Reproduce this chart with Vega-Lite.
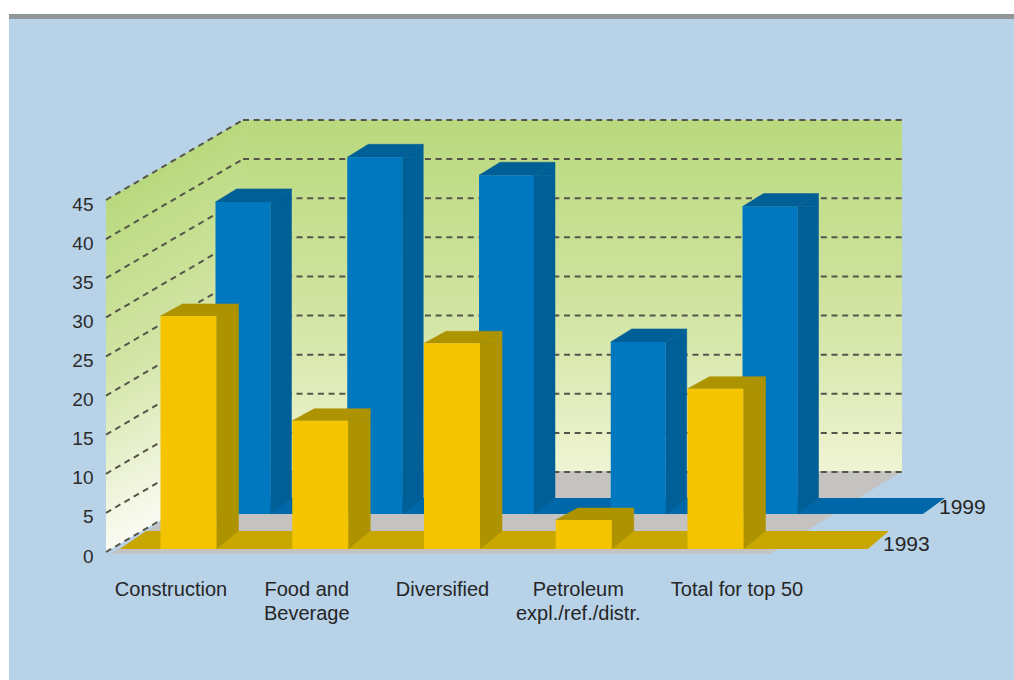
{
  "$schema": "https://vega.github.io/schema/vega-lite/v6.json",
  "autosize": "none",
  "padding": {"left": 9, "top": 19, "right": 0, "bottom": 0},
  "width": 1005,
  "height": 661,
  "background": "#ffffff",
  "view": {"fill": "#b8d2e8", "stroke": null},
  "datasets": {
    "walls": [{"from": 0, "to": 1, "floor": 0, "ceiling": 45}],
    "ticks": [
      {"tick": 0, "from": 0, "to": 1},
      {"tick": 5, "from": 0, "to": 1},
      {"tick": 10, "from": 0, "to": 1},
      {"tick": 15, "from": 0, "to": 1},
      {"tick": 20, "from": 0, "to": 1},
      {"tick": 25, "from": 0, "to": 1},
      {"tick": 30, "from": 0, "to": 1},
      {"tick": 35, "from": 0, "to": 1},
      {"tick": 40, "from": 0, "to": 1},
      {"tick": 45, "from": 0, "to": 1}
    ]
  },
  "data": {
    "values": [
      {"category": "Construction", "series": "1993", "value": 29.8},
      {"category": "Food and\nBeverage", "series": "1993", "value": 16.4},
      {"category": "Diversified", "series": "1993", "value": 26.3},
      {"category": "Petroleum\nexpl./ref./distr.", "series": "1993", "value": 3.7},
      {"category": "Total for top 50", "series": "1993", "value": 20.5},
      {"category": "Construction", "series": "1999", "value": 39.9},
      {"category": "Food and\nBeverage", "series": "1999", "value": 45.6},
      {"category": "Diversified", "series": "1999", "value": 43.3},
      {"category": "Petroleum\nexpl./ref./distr.", "series": "1999", "value": 22},
      {"category": "Total for top 50", "series": "1999", "value": 39.3}
    ]
  },
  "resolve": {"scale": {"x": "independent"}, "axis": {"y": "independent"}},
  "encoding": {
    "x": {
      "field": "category",
      "type": "nominal",
      "axis": null,
      "scale": {
        "type": "point",
        "padding": 0,
        "domain": ["Construction", "Food and\nBeverage", "Diversified", "Petroleum\nexpl./ref./distr.", "Total for top 50"],
        "range": [179.5, 706.5]
      }
    },
    "y": {
      "field": "value",
      "type": "quantitative",
      "axis": null,
      "scale": {"domain": [0, 45], "range": [533, 181], "nice": false, "zero": false}
    }
  },
  "layer": [
    {
      "description": "Band along the top of the panel",
      "data": {"name": "walls"},
      "mark": {"type": "point", "filled": true, "opacity": 1, "strokeWidth": 0, "size": 4, "shape": "M-234 -538 L771 -538 L771 -533 L-234 -533 Z", "fill": "#8f979b"},
      "encoding": {
        "x": {"field": "from", "type": "quantitative", "axis": null, "scale": {"domain": [0, 1], "range": [234, 893]}},
        "y": {"field": "floor", "type": "quantitative", "axis": null}
      }
    },
    {
      "description": "Back wall",
      "data": {"name": "walls"},
      "mark": {
        "type": "rect",
        "yOffset": -80,
        "y2Offset": -80,
        "fill": {
          "gradient": "linear", "x1": 0, "y1": 0, "x2": 0, "y2": 1,
          "stops": [
            {"offset": 0, "color": "#b9d97e"},
            {"offset": 0.5, "color": "#cfe39e"},
            {"offset": 1, "color": "#eff4d3"}
          ]
        }
      },
      "encoding": {
        "x": {"field": "from", "type": "quantitative", "axis": null, "scale": {"domain": [0, 1], "range": [234, 893]}},
        "x2": {"field": "to"},
        "y": {"field": "floor", "type": "quantitative", "axis": null},
        "y2": {"field": "ceiling"}
      }
    },
    {
      "description": "Left wall, gradient skewed along the receding grid lines",
      "data": {"name": "walls"},
      "mark": {
        "type": "point", "filled": true, "opacity": 1, "strokeWidth": 0, "size": 4,
        "shape": "M0 -80 L0 -432 L-137 -352 L-137 0 Z",
        "fill": {
          "gradient": "linear", "x1": 0, "y1": 0.185, "x2": 0.146, "y2": 0.973,
          "stops": [
            {"offset": 0, "color": "#b9d97e"},
            {"offset": 0.5, "color": "#d3e5a6"},
            {"offset": 1, "color": "#fbfbf3"}
          ]
        }
      },
      "encoding": {
        "x": {"field": "from", "type": "quantitative", "axis": null, "scale": {"domain": [0, 1], "range": [234, 893]}},
        "y": {"field": "floor", "type": "quantitative", "axis": null}
      }
    },
    {
      "description": "Floor",
      "data": {"name": "walls"},
      "mark": {"type": "point", "filled": true, "opacity": 1, "strokeWidth": 0, "size": 4, "shape": "M0 -81 L659 -81 L527 2 L-133 2 Z", "fill": "#c4c3c1"},
      "encoding": {
        "x": {"field": "from", "type": "quantitative", "axis": null, "scale": {"domain": [0, 1], "range": [234, 893]}},
        "y": {"field": "floor", "type": "quantitative", "axis": null}
      }
    },
    {
      "description": "Grid lines across the back wall; this layer also carries the value axis",
      "data": {"name": "ticks"},
      "mark": {"type": "rule", "yOffset": -80, "strokeDash": [6, 4.7], "strokeWidth": 2, "stroke": "#55554a"},
      "encoding": {
        "x": {"field": "from", "type": "quantitative", "axis": null, "scale": {"domain": [0, 1], "range": [234, 893]}},
        "x2": {"field": "to"},
        "y": {
          "field": "tick",
          "type": "quantitative",
          "title": null,
          "axis": {
            "values": [0, 5, 10, 15, 20, 25, 30, 35, 40, 45],
            "title": null,
            "offset": -97,
            "domain": false,
            "ticks": false,
            "grid": false,
            "labelPadding": 13,
            "labelFont": "Liberation Sans",
            "labelFontSize": 19,
            "labelColor": "#2b2b2b",
            "labelOffset": 4
          }
        }
      }
    },
    {
      "description": "Grid lines receding along the left wall",
      "data": {"name": "ticks"},
      "mark": {"type": "rule", "xOffset": -137, "y2Offset": -80, "strokeDash": [6, 4.7], "strokeWidth": 2, "stroke": "#55554a"},
      "encoding": {
        "x": {"field": "from", "type": "quantitative", "axis": null, "scale": {"domain": [0, 1], "range": [234, 893]}},
        "x2": {"field": "from"},
        "y": {"field": "tick", "type": "quantitative", "axis": null},
        "y2": {"field": "tick"}
      }
    },
    {
      "description": "1999 floor strip, anchored on the first bar of the series",
      "transform": [{"filter": "datum.series === '1999' && datum.category === 'Construction'"}],
      "mark": {"type": "point", "filled": true, "opacity": 1, "strokeWidth": 0, "size": 4, "xOffset": 56, "yOffset": -38, "shape": "M-69.5 0 L678.5 0 L700.5 -16 L-43.5 -16 Z", "fill": "#0068a8"},
      "encoding": {"y": {"datum": 0, "type": "quantitative", "axis": null}}
    },
    {
      "description": "1999 bars: lower corner of the side face",
      "transform": [{"filter": "datum.series === '1999'"}],
      "mark": {"type": "point", "filled": true, "opacity": 1, "strokeWidth": 0.5, "stroke": "#005f96", "size": 4, "xOffset": 54.5, "yOffset": -38, "shape": "M27.5 0 L48.5 -16 L27.5 -16 Z", "fill": "#005f96"},
      "encoding": {"y": {"datum": 0, "type": "quantitative", "axis": null}}
    },
    {
      "description": "1999 bars: side face",
      "transform": [{"filter": "datum.series === '1999'"}],
      "mark": {"type": "bar", "orient": "vertical", "width": 21, "xOffset": 92.5, "yOffset": -38, "y2Offset": -54, "fill": "#005f96", "stroke": "#005f96", "strokeWidth": 0.5},
      "encoding": {"y2": {"datum": 0}}
    },
    {
      "description": "1999 bars: upper corner of the side face",
      "transform": [{"filter": "datum.series === '1999'"}],
      "mark": {"type": "point", "filled": true, "opacity": 1, "strokeWidth": 0.5, "stroke": "#005f96", "size": 4, "xOffset": 54.5, "yOffset": -38, "shape": "M27.5 0 L48.5 0 L48.5 -13 Z", "fill": "#005f96"}
    },
    {
      "description": "1999 bars: top face",
      "transform": [{"filter": "datum.series === '1999'"}],
      "mark": {"type": "point", "filled": true, "opacity": 1, "strokeWidth": 0.5, "stroke": "#005f96", "size": 4, "xOffset": 54.5, "yOffset": -38, "shape": "M-27.5 0 L27.5 0 L48.5 -13 L-6.5 -13 Z", "fill": "#005f96"}
    },
    {
      "description": "1999 bars: front face",
      "transform": [{"filter": "datum.series === '1999'"}],
      "mark": {"type": "bar", "orient": "vertical", "width": 55, "xOffset": 54.5, "yOffset": -38, "y2Offset": -38, "fill": "#0078c0"},
      "encoding": {"y2": {"datum": 0}}
    },
    {
      "description": "1993 floor strip, anchored on the first bar of the series",
      "transform": [{"filter": "datum.series === '1993' && datum.category === 'Construction'"}],
      "mark": {"type": "point", "filled": true, "opacity": 1, "strokeWidth": 0, "size": 4, "xOffset": 1.5, "yOffset": -3, "shape": "M-70 0 L678 0 L699 -18 L-44 -18 Z", "fill": "#c8a800"},
      "encoding": {"y": {"datum": 0, "type": "quantitative", "axis": null}}
    },
    {
      "description": "1993 bars: lower corner of the side face",
      "transform": [{"filter": "datum.series === '1993'"}],
      "mark": {"type": "point", "filled": true, "opacity": 1, "strokeWidth": 0.5, "stroke": "#ae9300", "size": 4, "yOffset": -3, "shape": "M28 0 L50 -18 L28 -18 Z", "fill": "#ae9300"},
      "encoding": {"y": {"datum": 0, "type": "quantitative", "axis": null}}
    },
    {
      "description": "1993 bars: side face",
      "transform": [{"filter": "datum.series === '1993'"}],
      "mark": {"type": "bar", "orient": "vertical", "width": 22, "xOffset": 39, "yOffset": -3, "y2Offset": -21, "fill": "#ae9300", "stroke": "#ae9300", "strokeWidth": 0.5},
      "encoding": {"y2": {"datum": 0}}
    },
    {
      "description": "1993 bars: upper corner of the side face",
      "transform": [{"filter": "datum.series === '1993'"}],
      "mark": {"type": "point", "filled": true, "opacity": 1, "strokeWidth": 0.5, "stroke": "#ae9300", "size": 4, "yOffset": -3, "shape": "M28 0 L50 0 L50 -12 Z", "fill": "#ae9300"}
    },
    {
      "description": "1993 bars: top face",
      "transform": [{"filter": "datum.series === '1993'"}],
      "mark": {"type": "point", "filled": true, "opacity": 1, "strokeWidth": 0.5, "stroke": "#ae9300", "size": 4, "yOffset": -3, "shape": "M-28 0 L28 0 L50 -12 L-6 -12 Z", "fill": "#ae9300"}
    },
    {
      "description": "1993 bars: front face",
      "transform": [{"filter": "datum.series === '1993'"}],
      "mark": {"type": "bar", "orient": "vertical", "width": 56, "yOffset": -3, "y2Offset": -3, "fill": "#f5c400"},
      "encoding": {"y2": {"datum": 0}}
    },
    {
      "description": "Category labels under the floor",
      "transform": [{"filter": "datum.series === '1999' && datum.category !== 'Total for top 50'"}],
      "mark": {"type": "text", "font": "Liberation Sans", "baseline": "top", "align": "center", "yOffset": 28, "fontSize": 20, "lineHeight": 24, "lineBreak": "\n", "fill": "#262626"},
      "encoding": {
        "x": {
          "field": "category", "type": "nominal", "axis": null,
          "scale": {
            "type": "point", "padding": 0,
            "domain": ["Construction", "Food and\nBeverage", "Diversified", "Petroleum\nexpl./ref./distr.", "Total for top 50"],
            "range": [162, 705]
          }
        },
        "y": {"datum": 0, "type": "quantitative", "axis": null},
        "text": {"field": "category"}
      }
    },
    {
      "description": "Label of the last category, set a little further right",
      "transform": [{"filter": "datum.series === '1999' && datum.category === 'Total for top 50'"}],
      "mark": {"type": "text", "font": "Liberation Sans", "baseline": "top", "align": "center", "yOffset": 28, "dx": 23, "fontSize": 20, "fill": "#262626"},
      "encoding": {
        "x": {
          "field": "category", "type": "nominal", "axis": null,
          "scale": {
            "type": "point", "padding": 0,
            "domain": ["Construction", "Food and\nBeverage", "Diversified", "Petroleum\nexpl./ref./distr.", "Total for top 50"],
            "range": [162, 705]
          }
        },
        "y": {"datum": 0, "type": "quantitative", "axis": null},
        "text": {"field": "category"}
      }
    },
    {
      "description": "Series name at the end of the 1999 strip",
      "transform": [{"filter": "datum.series === '1999' && datum.category === 'Construction'"}],
      "mark": {"type": "text", "font": "Liberation Sans", "align": "left", "baseline": "middle", "dx": 750.5, "yOffset": -44, "fontSize": 21, "fill": "#262626"},
      "encoding": {
        "y": {"datum": 0, "type": "quantitative", "axis": null},
        "text": {"field": "series"}
      }
    },
    {
      "description": "Series name at the end of the 1993 strip",
      "transform": [{"filter": "datum.series === '1993' && datum.category === 'Construction'"}],
      "mark": {"type": "text", "font": "Liberation Sans", "align": "left", "baseline": "middle", "dx": 694.5, "yOffset": -7, "fontSize": 21, "fill": "#262626"},
      "encoding": {
        "y": {"datum": 0, "type": "quantitative", "axis": null},
        "text": {"field": "series"}
      }
    }
  ]
}
